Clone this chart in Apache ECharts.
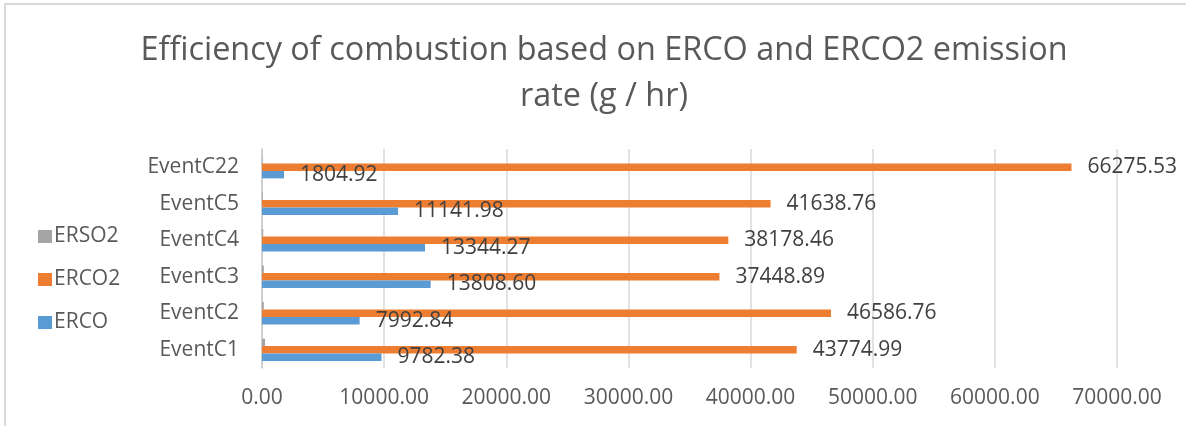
<!DOCTYPE html>
<html>
<head>
<meta charset="utf-8">
<script src="https://cdn.jsdelivr.net/npm/echarts@6/dist/echarts.min.js"></script>
<style>
html,body{margin:0;padding:0;background:#fff;}
#chart{width:1186px;height:426px;}
</style>
</head>
<body>
<div id="chart"></div>
<script>
const categories = ['EventC1', 'EventC2', 'EventC3', 'EventC4', 'EventC5', 'EventC22'];
const erco = [9782.38, 7992.84, 13808.60, 13344.27, 11141.98, 1804.92];
const erco2 = [43774.99, 46586.76, 37448.89, 38178.46, 41638.76, 66275.53];
const erso2 = [250, 150, 150, 100, 60, 30];
const xTicks = { min: 0, max: 70000, interval: 10000 };

const FONT = '"Open Sans", "Liberation Sans", sans-serif';
const TXT = '#595959';

const chart = echarts.init(document.getElementById('chart'), null, { renderer: 'canvas' });

const labelCfg = {
  show: true,
  position: 'right',
  distance: 16,
  color: '#404040',
  fontFamily: FONT,
  fontSize: 21,
  formatter: p => p.value.toFixed(2)
};

chart.setOption({
  animation: false,
  backgroundColor: '#ffffff',
  textStyle: { fontFamily: FONT },
  title: {
    text: 'Efficiency of combustion based on ERCO and ERCO2 emission\nrate (g / hr)',
    left: 599,
    textAlign: 'center',
    top: 23,
    textStyle: {
      fontFamily: FONT,
      fontSize: 32.4,
      fontWeight: 'normal',
      color: TXT,
      lineHeight: 46
    }
  },
  legend: {
    orient: 'vertical',
    left: 33,
    top: 221,
    itemWidth: 14,
    itemHeight: 13,
    itemGap: 22,
    icon: 'rect',
    data: ['ERSO2', 'ERCO2', 'ERCO'],
    textStyle: { fontFamily: FONT, fontSize: 21, color: TXT, padding: [0, 0, 0, -3] }
  },
  grid: { left: 262, right: 69, top: 149, bottom: 58, containLabel: false },
  xAxis: {
    type: 'value',
    min: xTicks.min,
    max: xTicks.max,
    interval: xTicks.interval,
    axisLine: { show: false },
    axisTick: { show: false },
    splitLine: { show: true, lineStyle: { color: '#D9D9D9', width: 1.5 } },
    axisLabel: {
      margin: 20,
      fontFamily: FONT,
      fontSize: 21,
      color: TXT,
      formatter: v => v.toFixed(2)
    }
  },
  yAxis: {
    type: 'category',
    data: categories,
    axisLine: { show: true, lineStyle: { color: '#C8C8C8', width: 1.5 } },
    axisTick: { show: false },
    splitLine: { show: false },
    axisLabel: { margin: 23, fontFamily: FONT, fontSize: 21, color: TXT }
  },
  series: [
    {
      name: 'ERSO2', type: 'bar', data: erso2,
      itemStyle: { color: '#A5A5A5' },
      barGap: '0%', barCategoryGap: '39%'
    },
    {
      name: 'ERCO2', type: 'bar', data: erco2,
      itemStyle: { color: '#ED7D31' },
      barGap: '0%', barCategoryGap: '39%',
      label: labelCfg
    },
    {
      name: 'ERCO', type: 'bar', data: erco,
      itemStyle: { color: '#5B9BD5' },
      barGap: '0%', barCategoryGap: '39%',
      label: labelCfg
    }
  ],
  graphic: [
    {
      type: 'rect',
      silent: true,
      z: -1,
      shape: { x: 5, y: 4, width: 1300, height: 600 },
      style: { fill: 'none', stroke: '#D9D9D9', lineWidth: 2 }
    }
  ]
});
</script>
</body>
</html>
